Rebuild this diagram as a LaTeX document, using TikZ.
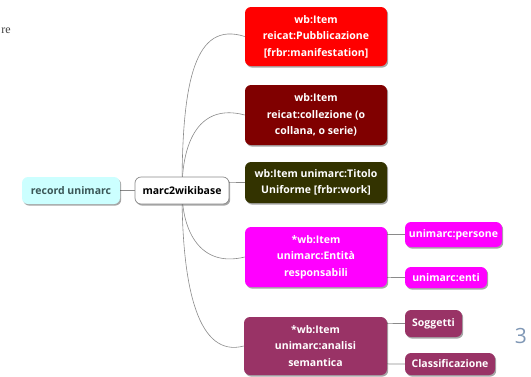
\documentclass[tikz,border=0pt]{standalone}
\usepackage{fontspec}
\setmainfont{Open Sans}
\newfontfamily\serifre{Liberation Serif}
\usetikzlibrary{shadows,backgrounds}
\definecolor{cyanbox}{HTML}{CCFFFF}
\definecolor{cyantext}{HTML}{3A5656}
\definecolor{redbox}{HTML}{FF0000}
\definecolor{maroonbox}{HTML}{800000}
\definecolor{olivebox}{HTML}{333300}
\definecolor{magbox}{HTML}{FF00FF}
\definecolor{plumbox}{HTML}{993366}
\definecolor{linegray}{HTML}{8A8A8A}
\definecolor{numblue}{HTML}{7F97B5}
\tikzset{
  topic/.style={rounded corners=6pt, align=center, text=white, inner sep=0pt,
    font=\bfseries\fontsize{10.5}{16.5}\selectfont,
    drop shadow={shadow xshift=1.2pt, shadow yshift=-1.6pt, opacity=0.35, fill=black}},
  conn/.style={draw=linegray, line width=0.6pt}
}
\begin{document}
\begin{tikzpicture}[x=1pt,y=-1pt]
\useasboundingbox (0,0) rectangle (531,376);
% nodes
\node[topic, fill=cyanbox, text=cyantext, minimum width=98pt, minimum height=27pt] (rec) at (71,190.5) {record unimarc};
\node[topic, fill=white, draw=linegray, line width=0.7pt, text=black, minimum width=94pt, minimum height=27pt] (mw) at (182,190.5) {marc2wikibase};
\node[topic, fill=redbox, minimum width=142pt, minimum height=59pt] (pub) at (316,36.5) {wb:Item\\reicat:Pubblicazione\\{}{[frbr:manifestation]}};
\node[topic, fill=maroonbox, minimum width=142pt, minimum height=60pt] (col) at (316,115) {wb:Item\\reicat:collezione (o\\collana, o serie)};
\node[topic, fill=olivebox, minimum width=142pt, minimum height=41pt] (tit) at (316,182.5) {wb:Item unimarc:Titolo\\Uniforme {[frbr:work]}};
\node[topic, fill=magbox, minimum width=142pt, minimum height=60pt] (ent) at (316,257) {*wb:Item\\unimarc:Entità\\responsabili};
\node[topic, fill=plumbox, minimum width=143pt, minimum height=58pt] (ana) at (315.5,346) {*wb:Item\\unimarc:analisi\\semantica};
\node[topic, fill=magbox, minimum width=97pt, minimum height=25pt] (per) at (453.5,234.5) {unimarc:persone};
\node[topic, fill=magbox, minimum width=82pt, minimum height=21pt] (enti) at (446,277.5) {unimarc:enti};
\node[topic, fill=plumbox, minimum width=57pt, minimum height=27pt] (sog) at (433.5,323.5) {Soggetti};
\node[topic, fill=plumbox, minimum width=90pt, minimum height=22pt] (cla) at (450,364) {Classificazione};
\node[anchor=east, text=black!75, font=\serifre\fontsize{12}{12}\selectfont, inner sep=0pt] (re) at (11,31) {re};
\node[text=numblue, font=\fontsize{21}{21}\selectfont, inner sep=0pt] (num) at (521,336) {3};
% connectors
\begin{scope}[on background layer]
\draw[conn] (rec) -- (mw);
\draw[conn] (mw.center) .. controls +(0,-110) and +(-50,-16) .. (pub.west);
\draw[conn] (mw.center) .. controls +(0,-50) and +(-45,-12) .. (col.west);
\draw[conn] (mw.center) .. controls +(30,-7) and +(-30,0) .. (tit.west);
\draw[conn] (mw.center) .. controls +(0,40) and +(-45,11) .. (ent.west);
\draw[conn] (mw.center) .. controls +(0,100) and +(-45,12) .. (ana.west);
\draw[conn] (ent.center) .. controls +(30,-23) and +(-40,0) .. (per.west);
\draw[conn] (ent.center) .. controls +(30,20) and +(-40,0) .. (enti.west);
\draw[conn] (ana.center) .. controls +(30,-22) and +(-40,0) .. (sog.west);
\draw[conn] (ana.center) .. controls +(30,18) and +(-40,0) .. (cla.west);
\end{scope}
\end{tikzpicture}
\end{document}
